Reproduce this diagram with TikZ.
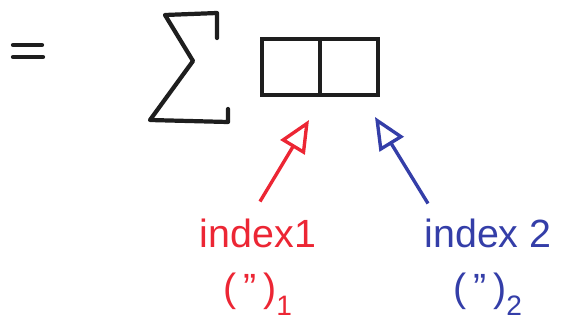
\documentclass[tikz,border=0pt]{standalone}
\usepackage{fontspec}
\setmainfont{Liberation Sans}
\usetikzlibrary{arrows.meta, positioning}

\definecolor{penred}{RGB}{236,38,52}
\definecolor{penblue}{RGB}{52,62,168}
\definecolor{penblack}{RGB}{30,30,30}

\newcommand{\sub}[1]{\raisebox{-0.35em}{\fontsize{20}{24}\selectfont #1}}

\begin{document}
\begin{tikzpicture}[
    x=0.025cm, y=-0.025cm,
    pen/.style={line width=3pt, draw=penblack, line cap=round, line join=round},
    cell/.style={rectangle, draw=penblack, line width=3pt, minimum width=1.45cm, minimum height=1.4cm, inner sep=0pt, outer sep=0pt},
    idx/.style={font=\fontsize{28}{32}\selectfont, anchor=base},
    ditto/.style={font=\fontsize{28}{32}\selectfont, anchor=base},
    arrow/.style={-{Triangle[open, length=8mm, width=7mm]}, line width=2.4pt}
]
\useasboundingbox (0,0) rectangle (561,323);

% ============ EQUALS ============
\draw[pen] (13,45) -- (42,45);
\draw[pen] (13,57) -- (43,57);

% ============ SUM ============
\draw[pen] (217,38) -- (217,13) -- (165,15) -- (193,61) -- (150,120) -- (228,122) -- (228,109);

% ============ BOX ============
\node[cell] (cell1) at (291,67) {};
\node[cell, right=0pt of cell1] (cell2) {};

% ============ INDICES ============
\node[idx, text=penred] (idx1) at (258,247) {index1};
\node[idx, text=penblue] (idx2) at (488,247) {index 2};
\node[ditto, text=penred, below=0.4cm of idx1] (rep1) {(\,''\,)\sub{1}};
\node[ditto, text=penblue, below=0.4cm of idx2] (rep2) {(\,''\,)\sub{2}};

% ============ ARROWS ============
\coordinate (tip1) at (309,120);
\coordinate (tip2) at (375,117);
\path (idx1.north) ++(2,-12) coordinate (from1);
\path (idx2.north) ++(-60,-10) coordinate (from2);
\draw[arrow, penred] (from1) -- (tip1);
\draw[arrow, penblue] (from2) -- (tip2);

\end{tikzpicture}
\end{document}
